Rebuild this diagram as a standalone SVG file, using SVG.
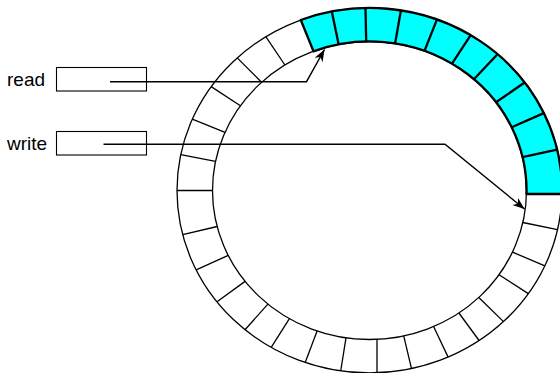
<svg xmlns="http://www.w3.org/2000/svg" width="560" height="373" viewBox="0 0 560 373">
<style>
.ring{fill:none;stroke:#000;stroke-width:1.3}
.sp{stroke:#000;stroke-width:1.3}
.cy{fill:#00ffff;stroke:#000;stroke-width:2.3;stroke-linejoin:round}
.csp{stroke:#000;stroke-width:2.3}
.box{fill:#fff;stroke:#000;stroke-width:1.1}
.lbl{font-family:"Liberation Sans",Arial,sans-serif;font-size:19px;fill:#000}
.conn{fill:none;stroke:#000;stroke-width:1.4}
</style>
<defs>
<marker id="ah" markerUnits="userSpaceOnUse" markerWidth="14" markerHeight="10" refX="12" refY="4.5" orient="auto">
<path d="M0,0 L12,4.5 L0,9 L3.5,4.5 Z" fill="#000"/>
</marker>
</defs>
<rect width="560" height="373" fill="#fff"/>
<g id="buffer">
<ellipse class="ring" cx="369.5" cy="190.5" rx="192.5" ry="182.5"/>
<ellipse class="ring" cx="369.5" cy="190.5" rx="157" ry="149"/>
<path class="cy" d="M300.8,20 A192.5 182.5 0 0 1 562,194 L526.5,194 A157 149 0 0 0 313.5,51.3 Z"/>
<g class="sp">
<line x1="522.8" y1="222.5" x2="557.5" y2="229.7"/>
<line x1="512.5" y1="252.1" x2="544.8" y2="265.9"/>
<line x1="499.0" y1="274.7" x2="528.3" y2="293.6"/>
<line x1="478.8" y1="297.5" x2="503.5" y2="321.6"/>
<line x1="458.9" y1="313.0" x2="479.1" y2="340.5"/>
<line x1="433.6" y1="326.5" x2="448.1" y2="357.1"/>
<line x1="403.7" y1="335.9" x2="411.5" y2="368.6"/>
<line x1="377" y1="339.3" x2="377" y2="372.9"/>
<line x1="346.0" y1="337.8" x2="340.7" y2="371.0"/>
<line x1="317.1" y1="331.0" x2="305.2" y2="362.5"/>
<line x1="289.4" y1="318.6" x2="271.2" y2="347.4"/>
<line x1="267.9" y1="304.1" x2="245.0" y2="329.7"/>
<line x1="245.1" y1="281.4" x2="217.0" y2="301.8"/>
<line x1="228.2" y1="255.3" x2="196.2" y2="269.9"/>
<line x1="217.2" y1="226.5" x2="182.7" y2="234.6"/>
<line x1="212.5" y1="190.5" x2="177" y2="190.5"/>
<line x1="215.5" y1="161.3" x2="180.7" y2="154.7"/>
<line x1="225.0" y1="132.3" x2="192.3" y2="119.2"/>
<line x1="240.4" y1="105.7" x2="211.2" y2="86.6"/>
<line x1="261.6" y1="82.2" x2="237.2" y2="57.9"/>
<line x1="284.9" y1="65.0" x2="265.8" y2="36.7"/>
</g>
<g class="csp">
<line x1="338.7" y1="44.4" x2="331.8" y2="11.5"/>
<line x1="366.2" y1="41.5" x2="365.5" y2="8.0"/>
<line x1="395.1" y1="43.5" x2="400.9" y2="10.4"/>
<line x1="424.5" y1="50.9" x2="436.9" y2="19.6"/>
<line x1="452.0" y1="63.7" x2="470.7" y2="35.2"/>
<line x1="473.9" y1="79.3" x2="497.5" y2="54.2"/>
<line x1="496.0" y1="102.3" x2="524.6" y2="82.5"/>
<line x1="511.7" y1="127.3" x2="543.8" y2="113.1"/>
<line x1="522.5" y1="157.2" x2="557.1" y2="149.7"/>
</g>
</g>
<g id="read">
<text class="lbl" x="7" y="85.5">read</text>
<rect class="box" x="56.5" y="67.5" width="90" height="23.5"/>
</g>
<g id="write">
<text class="lbl" x="7" y="149.5">write</text>
<rect class="box" x="56.5" y="131.5" width="90" height="23.5"/>
</g>
<g id="connectors">
<polyline class="conn" points="110,81.7 306.5,81.7 324.5,49.5" marker-end="url(#ah)"/>
<polyline class="conn" points="103.5,144.3 445,144.3 524.5,209" marker-end="url(#ah)"/>
</g>
</svg>
